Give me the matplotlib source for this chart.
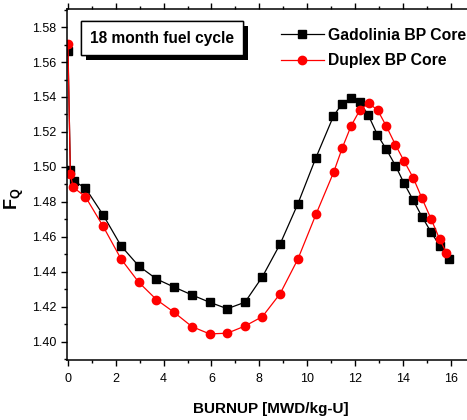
import matplotlib
matplotlib.use("Agg")
import matplotlib.pyplot as plt
import matplotlib.patheffects as pe
from matplotlib.ticker import MultipleLocator, FormatStrFormatter

plt.rcParams['font.family'] = ['Liberation Sans', 'DejaVu Sans']
plt.rcParams['mathtext.fontset'] = 'custom'
plt.rcParams['mathtext.rm'] = 'Liberation Sans:bold'
plt.rcParams['mathtext.bf'] = 'Liberation Sans:bold'

# Data
burnup_gd = [0.0, 0.10, 0.24, 0.73, 1.47, 2.22, 2.96, 3.70, 4.43, 5.18, 5.92, 6.66,
             7.40, 8.13, 8.87, 9.61, 10.36, 11.10, 11.46, 11.84, 12.20, 12.56, 12.94,
             13.31, 13.69, 14.05, 14.43, 14.80, 15.17, 15.54, 15.92]
fq_gd = [1.5665, 1.4983, 1.4920, 1.4880, 1.4726, 1.4549, 1.4434, 1.4360, 1.4314, 1.4269,
         1.4227, 1.4190, 1.4227, 1.4373, 1.4560, 1.4789, 1.5051, 1.5291, 1.5362, 1.5396,
         1.5371, 1.5295, 1.5183, 1.5101, 1.5008, 1.4907, 1.4811, 1.4716, 1.4630, 1.4550,
         1.4473]

burnup_dx = [0.0, 0.10, 0.22, 0.73, 1.47, 2.22, 2.96, 3.70, 4.43, 5.18, 5.92, 6.66,
             7.40, 8.13, 8.87, 9.61, 10.37, 11.11, 11.47, 11.84, 12.21, 12.58, 12.95,
             13.31, 13.69, 14.05, 14.43, 14.80, 15.18, 15.54, 15.82]
fq_dx = [1.5703, 1.4958, 1.4884, 1.4830, 1.4661, 1.4474, 1.4341, 1.4242, 1.4170, 1.4088,
         1.4046, 1.4050, 1.4091, 1.4145, 1.4276, 1.4473, 1.4730, 1.4971, 1.5110, 1.5236,
         1.5327, 1.5364, 1.5324, 1.5233, 1.5127, 1.5034, 1.4939, 1.4821, 1.4703, 1.4587,
         1.4510]

fig = plt.figure(figsize=(4.67, 4.2), dpi=100)
ax = fig.add_axes([0.1445, 0.1429, 0.8718, 0.8357])

ax.plot(burnup_gd, fq_gd, '-', color='black', lw=0.9, marker='s', ms=5.5,
        mfc='black', mec='black', label='Gadolinia BP Core')
ax.plot(burnup_dx, fq_dx, '-', color='red', lw=0.9, marker='o', ms=6,
        mfc='red', mec='red', label='Duplex BP Core')

ax.set_xlim(-0.02, 17.0)
ax.set_ylim(1.3897, 1.5903)
ax.xaxis.set_major_locator(MultipleLocator(2))
ax.xaxis.set_minor_locator(MultipleLocator(1))
ax.yaxis.set_major_locator(MultipleLocator(0.02))
ax.yaxis.set_minor_locator(MultipleLocator(0.01))
ax.yaxis.set_major_formatter(FormatStrFormatter('%.2f'))

ax.spines['right'].set_visible(False)
for s in ['left', 'bottom', 'top']:
    ax.spines[s].set_linewidth(1.1)
ax.tick_params(which='both', direction='out', top=True, right=False, labelsize=9,
               width=1)
ax.tick_params(which='major', length=4.5)
ax.tick_params(which='minor', length=2.5)
ax.tick_params(axis='x', which='major', pad=5)

ax.set_xlabel('BURNUP [MWD/kg-U]', fontsize=11, fontweight='bold', labelpad=12)
ax.set_ylabel(r'$\mathbf{F_Q}$', fontsize=13)
ax.yaxis.set_label_coords(-0.103, 0.46)

t = fig.text(0.1927, 0.9095, '18 month fuel cycle', fontsize=11.2, fontweight='bold',
             va='center', ha='left',
             bbox=dict(boxstyle='square,pad=0.6', fc='white', ec='black', lw=1))
t.get_bbox_patch().set_path_effects([
    pe.withSimplePatchShadow(offset=(3.5, -3.5), shadow_rgbFace='black', alpha=1),
    pe.Normal()])

leg = fig.legend(loc='upper left', bbox_to_anchor=(0.572, 0.967), frameon=False,
                 prop={'weight': 'bold', 'size': 11.3},
                 handlelength=2.7, handletextpad=0.3, labelspacing=0.65)

fig.savefig('out.png', dpi=100)
